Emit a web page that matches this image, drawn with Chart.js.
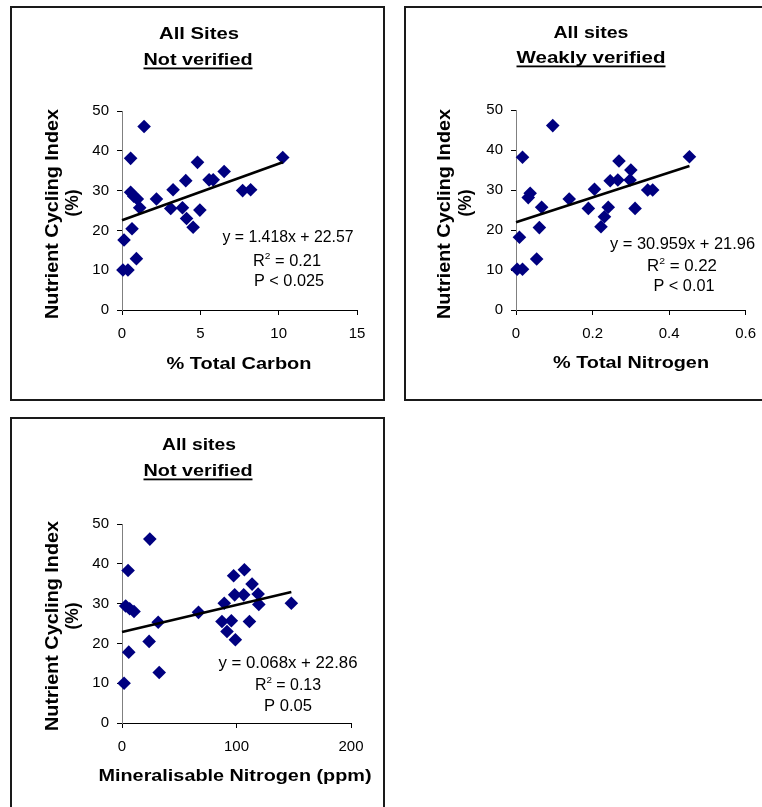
<!DOCTYPE html>
<html>
<head>
<meta charset="utf-8">
<script src="https://cdn.jsdelivr.net/npm/chart.js@4.4.0/dist/chart.umd.min.js"></script>
<style>
  html, body { margin: 0; background: #fff; overflow: hidden; width: 762px; height: 807px; position: relative; }
  canvas { position: absolute; }
</style>
</head>
<body>
<canvas id="c1" width="375" height="395" style="left:10px;top:6px"></canvas>
<canvas id="c2" width="400" height="395" style="left:404px;top:6px"></canvas>
<canvas id="c3" width="375" height="410" style="left:10px;top:417px"></canvas>
<script>
const FONT = 'Arial, "Liberation Sans", sans-serif';

// Nutrient Cycling Index (%) vs % Total Carbon
const totalCarbon = [1.41, 0.55, 10.26, 4.82, 6.52, 4.07, 5.56, 5.82, 3.26, 7.70, 8.21, 0.55, 0.75, 0.98, 1.13, 2.20, 3.11, 3.86, 4.97, 4.12, 4.54, 0.64, 0.13, 0.92, 0.06, 0.38];
const nciCarbon = [46.1, 38.1, 38.3, 37.1, 34.8, 32.5, 32.7, 32.7, 30.2, 30.0, 30.2, 29.6, 28.6, 27.9, 25.7, 27.9, 25.5, 25.7, 25.1, 23.0, 20.8, 20.4, 17.6, 12.9, 10.05, 10.05];
const trendCarbonX = [0, 10.26];
const trendCarbonY = [22.57, 37.12];

// Nutrient Cycling Index (%) vs % Total Nitrogen
const totalNitrogen = [0.096, 0.017, 0.453, 0.269, 0.300, 0.246, 0.266, 0.298, 0.205, 0.344, 0.357, 0.037, 0.032, 0.139, 0.067, 0.189, 0.241, 0.311, 0.231, 0.222, 0.061, 0.009, 0.054, 0.003, 0.017];
const nciNitrogen = [46.1, 38.2, 38.3, 37.25, 35.0, 32.3, 32.5, 32.5, 30.2, 30.0, 30.0, 29.2, 28.1, 27.75, 25.7, 25.4, 25.7, 25.4, 23.3, 20.8, 20.6, 18.2, 12.75, 10.2, 10.2];
const trendNitrogenX = [0, 0.453];
const trendNitrogenY = [21.96, 35.98];

// Nutrient Cycling Index (%) vs Mineralisable Nitrogen (ppm)
const mineralN = [24.3, 5.3, 106.9, 97.5, 113.6, 98.4, 106.3, 118.9, 89.3, 147.9, 119.5, 3.2, 6.7, 10.5, 66.8, 31.6, 87.3, 95.5, 111.3, 91.7, 99.0, 23.7, 5.9, 32.5, 1.8];
const nciMineral = [46.2, 38.3, 38.5, 37.0, 34.9, 32.2, 32.2, 32.4, 30.1, 30.1, 29.8, 29.4, 28.7, 28.0, 27.8, 25.3, 25.5, 25.7, 25.5, 23.0, 20.9, 20.5, 17.8, 12.7, 10.0];
const trendMineralX = [0, 147.9];
const trendMineralY = [22.86, 32.92];

const yTitle = 'Nutrient Cycling Index';

const toPoints = (xs, ys) => xs.map((x, i) => ({ x: x, y: ys[i] }));

// draw a line of text, stretched to the width it has in the picture
const drawLabel = (ctx, s) => {
  const fontOf = (sz) => (s.bold ? 'bold ' : '') + sz + 'px ' + FONT;
  let w = 0;
  s.parts.forEach((p) => {
    let t = typeof p === 'string' ? p : p.sup;
    ctx.font = fontOf(typeof p === 'string' ? s.size : s.size * 0.62);
    w += ctx.measureText(t).width;
  });
  let sx = s.width ? s.width / w : 1;
  ctx.save();
  ctx.translate(s.x, s.y);
  if (s.rotate) ctx.rotate(-Math.PI / 2);
  ctx.scale(sx, 1);
  ctx.fillStyle = '#000';
  ctx.textAlign = 'left';
  ctx.textBaseline = 'alphabetic';
  let x = -w / 2;
  s.parts.forEach((p) => {
    if (typeof p === 'string') {
      ctx.font = fontOf(s.size);
      ctx.fillText(p, x, 0);
      x += ctx.measureText(p).width;
    } else {
      ctx.font = fontOf(s.size * 0.62);
      ctx.fillText(p.sup, x, -s.size * 0.42);
      x += ctx.measureText(p.sup).width;
    }
  });
  if (s.underline) ctx.fillRect(-w / 2, 2.5, w, 1.8);
  ctx.restore();
};

const makePanel = (id, o) => {
  let canvas = document.getElementById(id);
  let left = parseFloat(canvas.style.left);
  let top = parseFloat(canvas.style.top);
  let tickFont = { family: FONT, size: 15 };
  let panelText = {
    id: 'panelText',
    afterDraw: (chart) => {
      let ctx = chart.ctx;
      ctx.save();
      ctx.strokeStyle = '#1a1a1a';
      ctx.lineWidth = 2;
      ctx.strokeRect(1, 1, canvas.width - 2, canvas.height - 2);
      ctx.translate(-left, -top);
      o.texts.forEach((s) => drawLabel(ctx, s));
      ctx.restore();
    },
  };
  return new Chart(canvas, {
    data: {
      datasets: [
        {
          type: 'line',
          data: toPoints(o.trendX, o.trendY),
          borderColor: '#000',
          borderWidth: 2.6,
          pointRadius: 0,
          fill: false,
          clip: false,
          order: 0,
        },
        {
          type: 'scatter',
          data: toPoints(o.xs, o.ys),
          pointStyle: 'rectRot',
          pointRadius: 6.8,
          pointHoverRadius: 6.8,
          backgroundColor: '#000080',
          borderWidth: 0,
          clip: false,
          order: 1,
        },
      ],
    },
    options: {
      responsive: false,
      animation: false,
      events: [],
      layout: { padding: { top: o.padTop, right: o.padRight, left: 0, bottom: 0 } },
      plugins: { legend: { display: false }, tooltip: { enabled: false } },
      scales: {
        x: {
          type: 'linear',
          min: 0,
          max: o.xMax,
          ticks: { stepSize: o.xStep, color: '#000', font: tickFont, padding: 10, maxRotation: 0 },
          grid: { drawOnChartArea: false, drawTicks: true, tickLength: 5, color: '#000' },
          border: { color: '#000', width: 1 },
          afterFit: (s) => { s.height = o.xAxisH; },
        },
        y: {
          type: 'linear',
          min: 0,
          max: 50,
          ticks: { stepSize: 10, color: '#000', font: tickFont, padding: 8 },
          grid: { drawOnChartArea: false, drawTicks: true, tickLength: 5, color: '#000' },
          border: { color: '#808080', width: 1 },
          afterFit: (s) => { s.width = 112; },
        },
      },
    },
    plugins: [panelText],
  });
};

makePanel('c1', {
  xs: totalCarbon, ys: nciCarbon, trendX: trendCarbonX, trendY: trendCarbonY,
  xMax: 15, xStep: 5, padTop: 105, padRight: 28, xAxisH: 91,
  texts: [
    { parts: ['All Sites'], x: 199, y: 39, size: 17, bold: true, width: 80 },
    { parts: ['Not verified'], x: 198, y: 65, size: 17, bold: true, width: 109, underline: true },
    { parts: ['% Total Carbon'], x: 239, y: 369, size: 17, bold: true, width: 145 },
    { parts: [yTitle], x: 58, y: 214, size: 18, bold: true, width: 210, rotate: true },
    { parts: ['(%)'], x: 78, y: 203, size: 18, bold: true, width: 27, rotate: true },
    { parts: ['y = 1.418x + 22.57'], x: 288, y: 242, size: 16, width: 131 },
    { parts: ['R', { sup: '2' }, ' = 0.21'], x: 287, y: 266, size: 16, width: 68 },
    { parts: ['P < 0.025'], x: 289, y: 286, size: 16, width: 70 },
  ],
});

makePanel('c2', {
  xs: totalNitrogen, ys: nciNitrogen, trendX: trendNitrogenX, trendY: trendNitrogenY,
  xMax: 0.6, xStep: 0.2, padTop: 104, padRight: 58.3, xAxisH: 91,
  texts: [
    { parts: ['All sites'], x: 591, y: 38, size: 17, bold: true, width: 75 },
    { parts: ['Weakly verified'], x: 591, y: 63, size: 17, bold: true, width: 149, underline: true },
    { parts: ['% Total Nitrogen'], x: 631, y: 368, size: 17, bold: true, width: 156 },
    { parts: [yTitle], x: 450, y: 214, size: 18, bold: true, width: 210, rotate: true },
    { parts: ['(%)'], x: 471, y: 203, size: 18, bold: true, width: 27, rotate: true },
    { parts: ['y = 30.959x + 21.96'], x: 682.5, y: 249, size: 16, width: 145 },
    { parts: ['R', { sup: '2' }, ' = 0.22'], x: 682, y: 271, size: 16, width: 70 },
    { parts: ['P < 0.01'], x: 684, y: 291, size: 16, width: 61 },
  ],
});

makePanel('c3', {
  xs: mineralN, ys: nciMineral, trendX: trendMineralX, trendY: trendMineralY,
  xMax: 200, xStep: 100, padTop: 107, padRight: 34, xAxisH: 104,
  texts: [
    { parts: ['All sites'], x: 199, y: 450, size: 17, bold: true, width: 74 },
    { parts: ['Not verified'], x: 198, y: 476, size: 17, bold: true, width: 109, underline: true },
    { parts: ['Mineralisable Nitrogen (ppm)'], x: 235, y: 781, size: 17, bold: true, width: 273 },
    { parts: [yTitle], x: 58, y: 626, size: 18, bold: true, width: 210, rotate: true },
    { parts: ['(%)'], x: 78, y: 616, size: 18, bold: true, width: 27, rotate: true },
    { parts: ['y = 0.068x + 22.86'], x: 288, y: 668, size: 16, width: 139 },
    { parts: ['R', { sup: '2' }, ' = 0.13'], x: 288, y: 690, size: 16, width: 66 },
    { parts: ['P 0.05'], x: 288, y: 711, size: 16, width: 48 },
  ],
});
</script>
</body>
</html>
